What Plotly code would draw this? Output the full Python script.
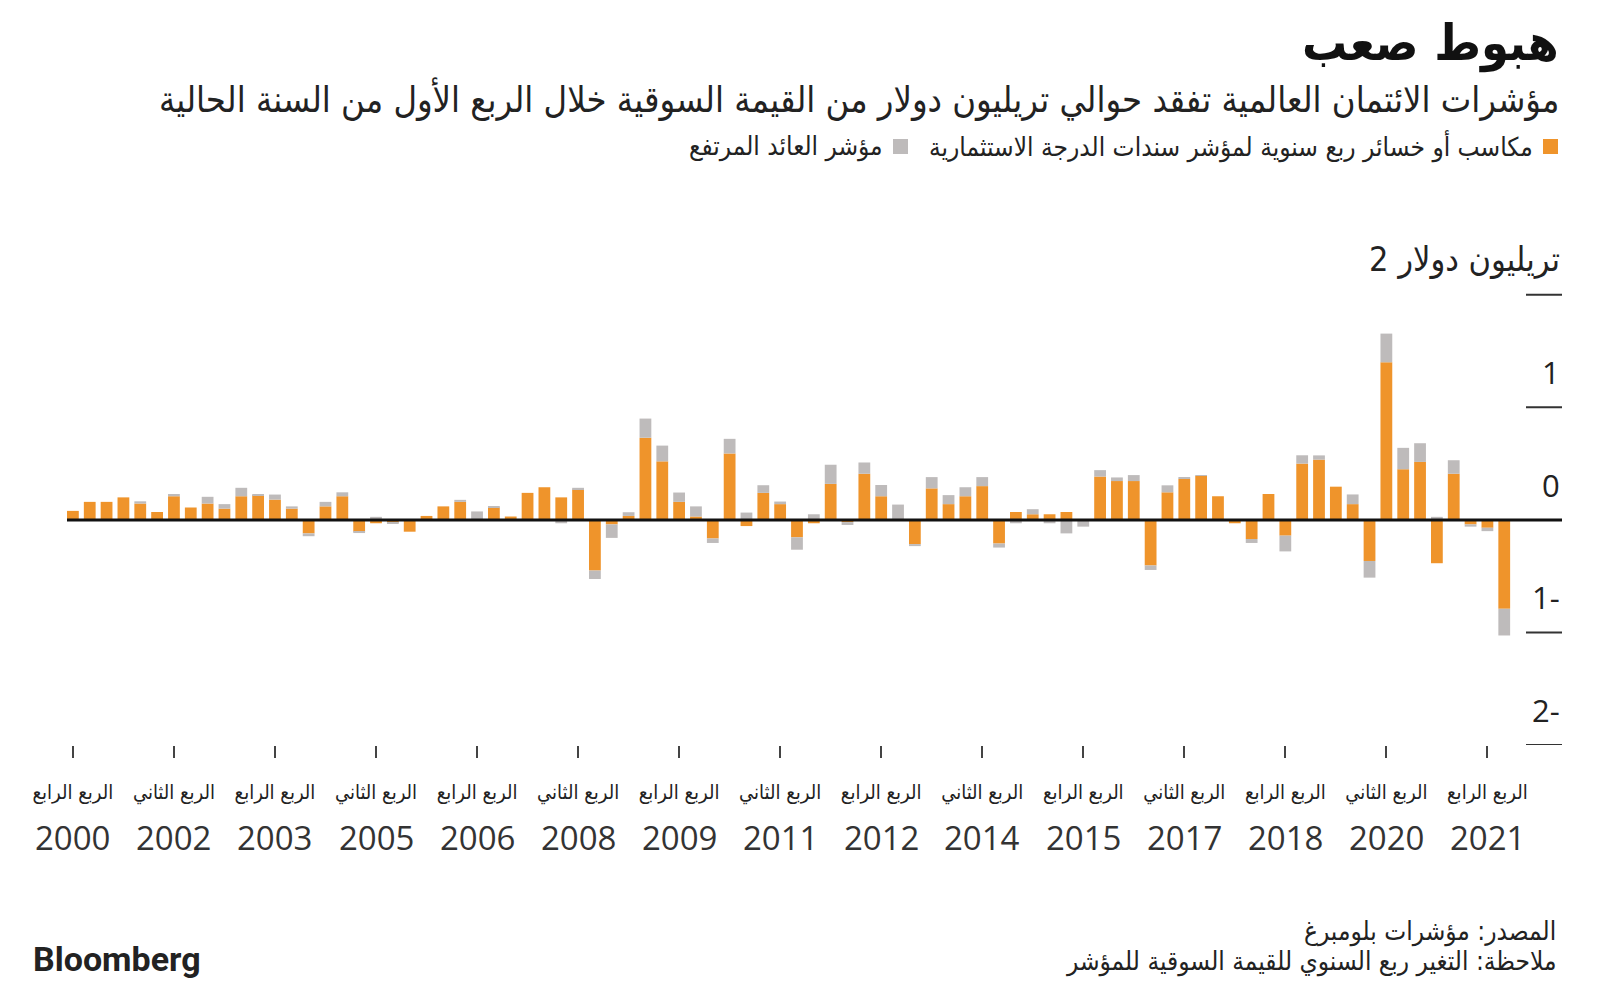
import plotly.graph_objects as go

# ---------------- data ----------------
first_year, first_q, n_bars = 2000, 4, 86
quarters = []
y, q = first_year, first_q
for _ in range(n_bars):
    quarters.append(f"{y}-Q{q}")
    q += 1
    if q > 4:
        q = 1
        y += 1

investment_grade = [
    0.08, 0.16, 0.16, 0.20, 0.145, 0.07, 0.21, 0.11, 0.145, 0.10,
    0.21, 0.22, 0.18, 0.10, -0.12, 0.12, 0.21, -0.105, -0.03, -0.025,
    -0.105, 0.035, 0.12, 0.16, 0.005, 0.11, 0.03, 0.24, 0.29, 0.20,
    0.27, -0.45, -0.04, 0.035, 0.73, 0.52, 0.16, 0.03, -0.165, 0.59,
    -0.055, 0.24, 0.14, -0.155, -0.03, 0.32, -0.02, 0.41, 0.21, 0.0,
    -0.215, 0.28, 0.14, 0.21, 0.30, -0.21, 0.07, 0.05, 0.05, 0.07,
    -0.01, 0.385, 0.345, 0.345, -0.405, 0.245, 0.365, 0.39, 0.21, -0.03,
    -0.17, 0.23, -0.14, 0.50, 0.535, 0.295, 0.14, -0.365, 1.40, 0.45,
    0.515, -0.385, 0.41, -0.04, -0.07, -0.79,
]
high_yield = [
    0.0, 0.0, 0.0, 0.0, 0.02, 0.0, 0.02, 0.0, 0.06, 0.04,
    0.075, 0.01, 0.045, 0.02, -0.025, 0.04, 0.035, -0.012, 0.027, -0.005,
    0.0, 0.0, 0.0, 0.018, 0.07, 0.01, 0.0, 0.0, 0.0, -0.03,
    0.015, -0.075, -0.12, 0.033, 0.17, 0.14, 0.083, 0.09, -0.04, 0.13,
    0.065, 0.068, 0.023, -0.11, 0.05, 0.17, -0.025, 0.10, 0.10, 0.136,
    -0.018, 0.10, 0.08, 0.08, 0.08, -0.036, -0.03, 0.045, -0.03, -0.12,
    -0.05, 0.057, 0.032, 0.053, -0.04, 0.062, 0.01, 0.005, 0.0, 0.0,
    -0.035, 0.0, -0.14, 0.074, 0.038, 0.0, 0.086, -0.148, 0.255, 0.19,
    0.166, 0.027, 0.12, -0.02, -0.03, -0.237,
]

tick_quarters = ["2000-Q4", "2002-Q2", "2003-Q4", "2005-Q2", "2006-Q4", "2008-Q2",
                 "2009-Q4", "2011-Q2", "2012-Q4", "2014-Q2", "2015-Q4", "2017-Q2",
                 "2018-Q4", "2020-Q2", "2021-Q4"]
tick_quarter_text = ["الربع الرابع", "الربع الثاني"] * 7 + ["الربع الرابع"]
tick_years = ["2000", "2002", "2003", "2005", "2006", "2008", "2009", "2011",
              "2012", "2014", "2015", "2017", "2018", "2020", "2021"]

y_tick_vals = [2, 1, 0, -1, -2]
y_tick_text = ["تريليون دولار 2", "1", "0", "1-", "2-"]

title_text = "هبوط صعب"
subtitle_text = "مؤشرات الائتمان العالمية تفقد حوالي تريليون دولار من القيمة السوقية خلال الربع الأول من السنة الحالية"
legend_ig = "مكاسب أو خسائر ربع سنوية لمؤشر سندات الدرجة الاستثمارية"
legend_hy = "مؤشر العائد المرتفع"
source_text = "المصدر: مؤشرات بلومبرغ"
note_text = "ملاحظة: التغير ربع السنوي للقيمة السوقية للمؤشر"

ORANGE = "#EF942B"
GRAY = "#BEBBBB"
AR_FONT = "DejaVu Sans Condensed, DejaVu Sans, sans-serif"
NUM_FONT = "Open Sans, Roboto, sans-serif"

# ---------------- layout geometry ----------------
# the page body adds an 8px offset; geometry below is in page pixels
OFF = 8
W, H = 1600, 991
PLOT_LEFT, PLOT_TOP, PW, PH = 67, 261, 1495, 484
ML = PLOT_LEFT - OFF
MT = PLOT_TOP - OFF
MR = W - ML - PW
MB = H - MT - PH


def px_x(px):
    return (px - PLOT_LEFT) / PW


def px_y(py):
    return (PLOT_TOP + PH - py) / PH


fig = go.Figure()
fig.add_trace(go.Bar(x=quarters, y=investment_grade, name=legend_ig,
                     marker=dict(color=ORANGE, line=dict(width=0))))
fig.add_trace(go.Bar(x=quarters, y=high_yield, name=legend_hy,
                     marker=dict(color=GRAY, line=dict(width=0))))

fig.update_layout(
    width=W, height=H,
    margin=dict(l=ML, r=MR, t=MT, b=MB),
    paper_bgcolor="white", plot_bgcolor="white",
    barmode="relative", bargap=0.3,
    showlegend=False,
    xaxis=dict(type="category", range=[-0.35, 88.43],
               showgrid=False, zeroline=False, showline=False,
               tickmode="array", tickvals=tick_quarters, ticktext=tick_quarter_text,
               ticks="outside", ticklen=12, tickwidth=2, tickcolor="#444",
               tickfont=dict(family=AR_FONT, size=20, color="#222"),
               ticklabelstandoff=17),
    yaxis=dict(range=[-2.0, 2.3], showgrid=False, zeroline=False,
               showticklabels=False, ticks=""),
)

shapes = []
# zero baseline
shapes.append(dict(type="line", xref="paper", yref="y", x0=0, x1=1, y0=0, y1=0,
                   line=dict(color="#111", width=3), layer="above"))
annotations = []
for v, t in zip(y_tick_vals, y_tick_text):
    if v != 0:
        shapes.append(dict(type="line", xref="paper", yref="y", x0=px_x(1526), x1=1,
                           y0=v, y1=v, line=dict(color="#333", width=2)))
    is_num = (v != 2)
    annotations.append(dict(xref="paper", yref="y", x=1, y=v, xanchor="right",
                            yanchor="middle", yshift=35, showarrow=False, text=t,
                            font=dict(family=NUM_FONT if is_num else AR_FONT,
                                      size=31 if is_num else 34, color="#222")))

# year labels
for qv, yr in zip(tick_quarters, tick_years):
    annotations.append(dict(xref="x", yref="paper", x=qv, y=px_y(837), xanchor="center",
                            yanchor="middle", showarrow=False, text=yr,
                            font=dict(family=NUM_FONT, size=33, color="#333")))

# title, subtitle
annotations.append(dict(xref="paper", yref="paper", x=px_x(1561), y=px_y(43),
                        xanchor="right", yanchor="middle", showarrow=False,
                        text=f"<b>{title_text}</b>",
                        font=dict(family=AR_FONT, size=50, color="#111")))
annotations.append(dict(xref="paper", yref="paper", x=px_x(1561), y=px_y(99),
                        xanchor="right", yanchor="middle", showarrow=False,
                        text=subtitle_text,
                        font=dict(family=AR_FONT, size=36, color="#222")))

# custom RTL legend
shapes.append(dict(type="rect", xref="paper", yref="paper",
                   x0=px_x(1543), x1=px_x(1558), y0=px_y(154), y1=px_y(139),
                   fillcolor=ORANGE, line=dict(width=0)))
annotations.append(dict(xref="paper", yref="paper", x=px_x(1535), y=px_y(146),
                        xanchor="right", yanchor="middle", showarrow=False,
                        text=legend_ig, font=dict(family=AR_FONT, size=26, color="#222")))
shapes.append(dict(type="rect", xref="paper", yref="paper",
                   x0=px_x(893), x1=px_x(908), y0=px_y(154), y1=px_y(139),
                   fillcolor=GRAY, line=dict(width=0)))
annotations.append(dict(xref="paper", yref="paper", x=px_x(885), y=px_y(146),
                        xanchor="right", yanchor="middle", showarrow=False,
                        text=legend_hy, font=dict(family=AR_FONT, size=26, color="#222")))

# footer
annotations.append(dict(xref="paper", yref="paper", x=px_x(1558), y=px_y(931),
                        xanchor="right", yanchor="middle", showarrow=False,
                        text=source_text, font=dict(family=AR_FONT, size=26, color="#222")))
annotations.append(dict(xref="paper", yref="paper", x=px_x(1558), y=px_y(961),
                        xanchor="right", yanchor="middle", showarrow=False,
                        text=note_text, font=dict(family=AR_FONT, size=26, color="#222")))
annotations.append(dict(xref="paper", yref="paper", x=px_x(31), y=px_y(959),
                        xanchor="left", yanchor="middle", showarrow=False,
                        text="<b>Bloomberg</b>",
                        font=dict(family="Roboto, Arial, sans-serif", size=34, color="#222")))

fig.update_layout(shapes=shapes, annotations=annotations)
fig.write_html("out.html")
